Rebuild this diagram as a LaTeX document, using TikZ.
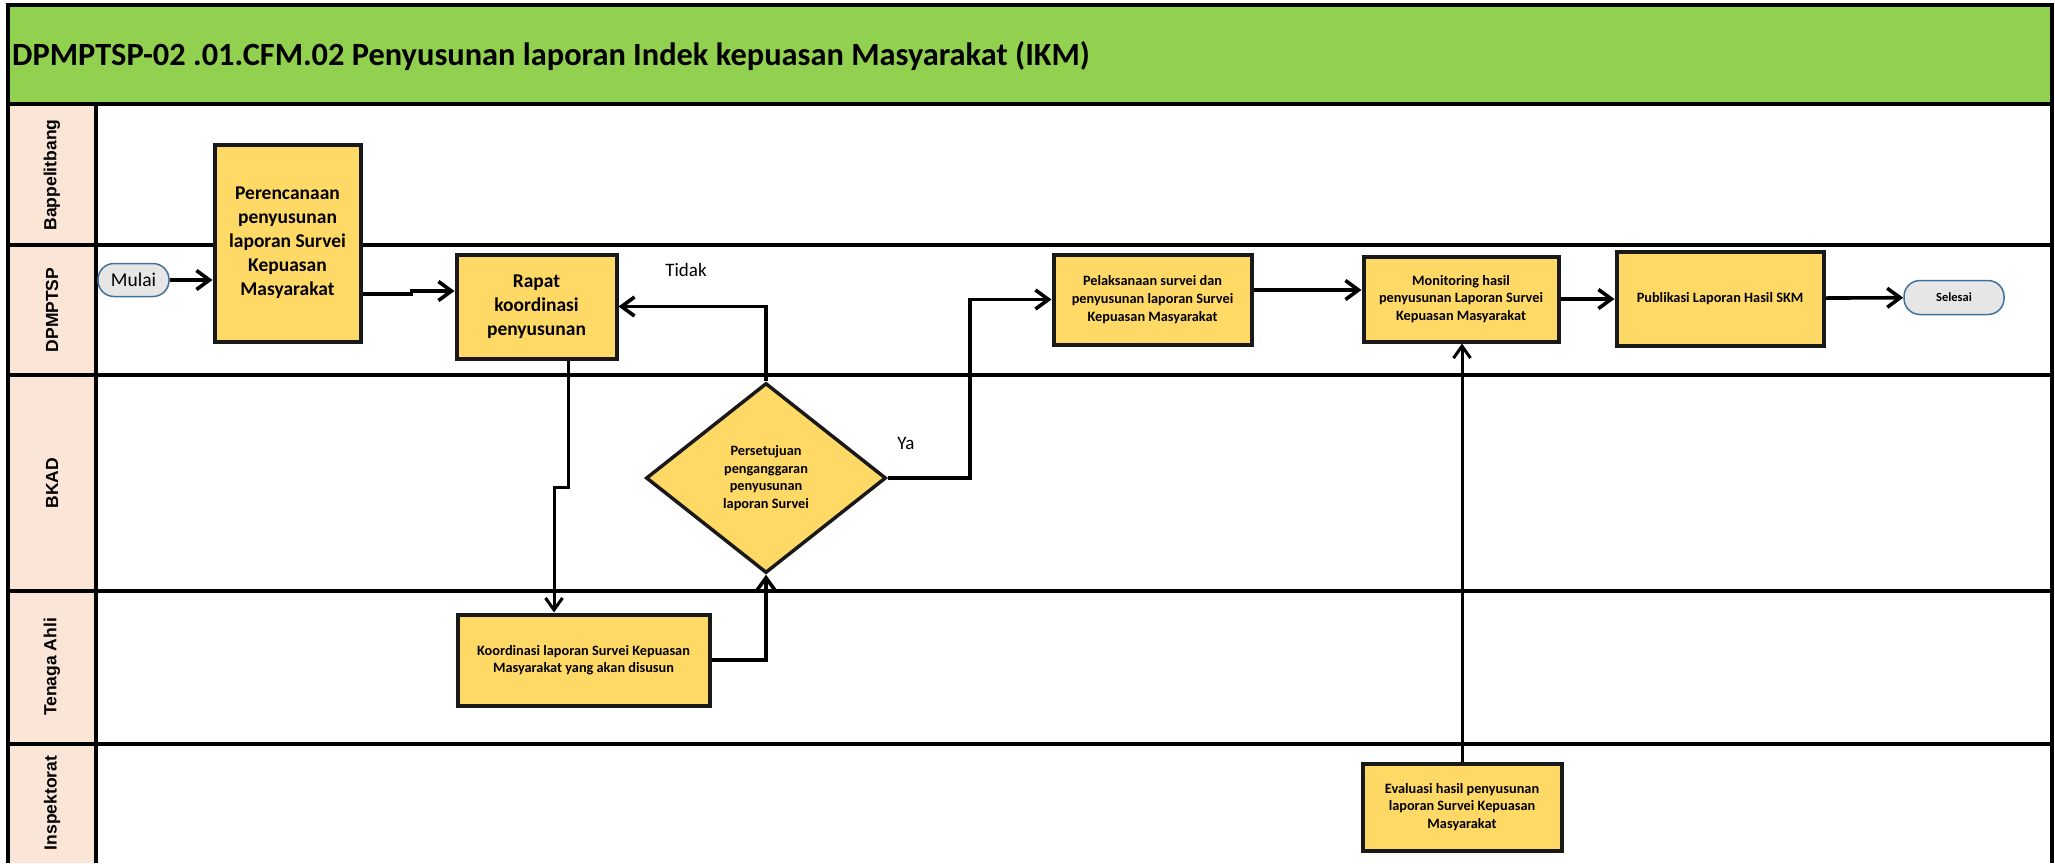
\documentclass[tikz,border=0pt]{standalone}
\usepackage{fontspec}
\setmainfont{Carlito}
\newfontfamily\lanefont{Liberation Sans}
\usetikzlibrary{positioning,shapes.geometric,arrows.meta,calc}

\definecolor{titlegreen}{HTML}{92D050}
\definecolor{lanepeach}{HTML}{FBE5D6}
\definecolor{boxyellow}{HTML}{FFD966}
\definecolor{termgray}{HTML}{E7E6E6}
\definecolor{termblue}{HTML}{41719C}

\begin{document}
\begin{tikzpicture}[x=1pt,y=-1pt,>={Straight Barb[length=13pt,width=19pt]},line join=miter,
  box/.style={draw=black!90,line width=4pt,fill=boxyellow,inner sep=0pt,align=center,
    font=\bfseries\fontsize{14.3}{17.6}\selectfont},
  bigbox/.style={box,font=\bfseries\fontsize{19.5}{24}\selectfont},
  choice/.style={box,diamond,line width=3.5pt},
  term/.style={draw=termblue,line width=1.5pt,fill=termgray,rounded corners=16pt,inner sep=0pt},
  lane_label/.style={rotate=90,font=\lanefont\bfseries\fontsize{17.5}{20}\selectfont},
  flow/.style={->,line width=3.6pt},
  flow_thin/.style={->,line width=3pt,>={Straight Barb[length=12pt,width=17pt]}},
  lane/.style={line width=4pt}]
\useasboundingbox (0,0) rectangle (2055,863);
%% swimlanes
  \fill [titlegreen] (8,5) rectangle (2052,104);
  \fill [lanepeach] (8,104) rectangle (96,863);
  \draw [lane] (6,5) -- (2054,5);
  \draw [lane] (8,104) -- (2052,104);
  \draw [lane] (8,245) -- (2052,245);
  \draw [lane] (8,375) -- (2052,375);
  \draw [lane] (8,591) -- (2052,591);
  \draw [lane] (8,744) -- (2052,744);
  \draw [lane] (8,5) -- (8,863);
  \draw [lane] (2052,5) -- (2052,863);
  \draw [lane] (96,104) -- (96,863);

  \node (node_title) at (12,56) [anchor=west,inner sep=0pt,font=\bfseries\fontsize{32.4}{38}\selectfont] {DPMPTSP-02 .01.CFM.02 Penyusunan laporan Indek kepuasan Masyarakat (IKM)};

  \node (lane_bappelitbang) at (52,175) [lane_label] {Bappelitbang};
  \node (lane_dpmptsp) at (52,310) [lane_label] {DPMPTSP};
  \node (lane_bkad) at (52,483) [lane_label] {BKAD};
  \node (lane_tenaga) at (52,667) [lane_label] {Tenaga Ahli};
  \node (lane_inspektorat) at (52,803) [lane_label] {Inspektorat};
%% steps
  \node (node_mulai) at (133.5,280) [term,minimum width=71pt,minimum height=33pt,font=\fontsize{19.5}{23}\selectfont] {Mulai};

  \node (node_perencanaan) at (287.5,243) [bigbox,minimum width=146pt,minimum height=197pt] {Perencanaan\\penyusunan\\laporan Survei\\Kepuasan\\Masyarakat};

  \node (node_rapat) at (536.5,306.5) [bigbox,minimum width=160pt,minimum height=104pt] {Rapat\\koordinasi\\penyusunan};

  \node (node_persetujuan) at (766,478) [choice,minimum width=240pt,minimum height=190pt] {Persetujuan\\penganggaran\\penyusunan\\laporan Survei};

  \node (node_koordinasi) at (583.5,660) [box,minimum width=252pt,minimum height=91pt] {Koordinasi laporan Survei Kepuasan\\Masyarakat yang akan disusun};

  \node (node_pelaksanaan) at (1152.5,299.5) [box,minimum width=198pt,minimum height=90pt] {Pelaksanaan survei dan\\penyusunan laporan Survei\\Kepuasan Masyarakat};

  \node (node_monitoring) at (1461,299) [box,minimum width=195pt,minimum height=85pt] {Monitoring hasil\\penyusunan Laporan Survei\\Kepuasan Masyarakat};

  \node (node_publikasi) at (1720,298.5) [box,minimum width=207pt,minimum height=94pt] {Publikasi Laporan Hasil SKM};

  \node (node_evaluasi) at (1462,807) [box,minimum width=199pt,minimum height=87pt] {Evaluasi hasil penyusunan\\laporan Survei Kepuasan\\Masyarakat};

  \node (node_selesai) at (1954,297.5) [term,minimum width=100pt,minimum height=34pt,font=\bfseries\fontsize{12.5}{15}\selectfont] {Selesai};

  \node (node_tidak) at (686,270) [font=\fontsize{19}{23}\selectfont] {Tidak};
  \node (node_ya) at (906,443) [font=\fontsize{19}{23}\selectfont] {Ya};
%% flow
  \draw [flow] (node_mulai) -- (node_perencanaan.west |- node_mulai);
  \draw [flow] ($(node_perencanaan.east)+(0,51)$) -- ++(49,0) |- ($(node_rapat.west)+(0,-15.5)$);
  \draw [flow_thin] ($(node_rapat.south)+(31.5,0)$) -- ++(0,127) -| ($(node_koordinasi.north)+(-29.5,0)$);
  \draw [flow] (node_koordinasi.east) -| (node_persetujuan.south);
  \draw [flow] (node_persetujuan.north) |- (node_rapat.east);
  \draw [flow] (node_persetujuan.east) -- ++(82,0) |- (node_pelaksanaan.west);
  \draw [flow] ($(node_pelaksanaan.east)+(0,-9.5)$) -- ($(node_monitoring.west)+(0,-9)$);
  \draw [flow] (node_monitoring.east) -- (node_publikasi.west |- node_monitoring.east);
  \draw [flow] (node_publikasi) -- (node_selesai);
  \draw [flow_thin] (node_evaluasi.north) -- (node_monitoring.south -| node_evaluasi.north);
%
\end{tikzpicture}
\end{document}
